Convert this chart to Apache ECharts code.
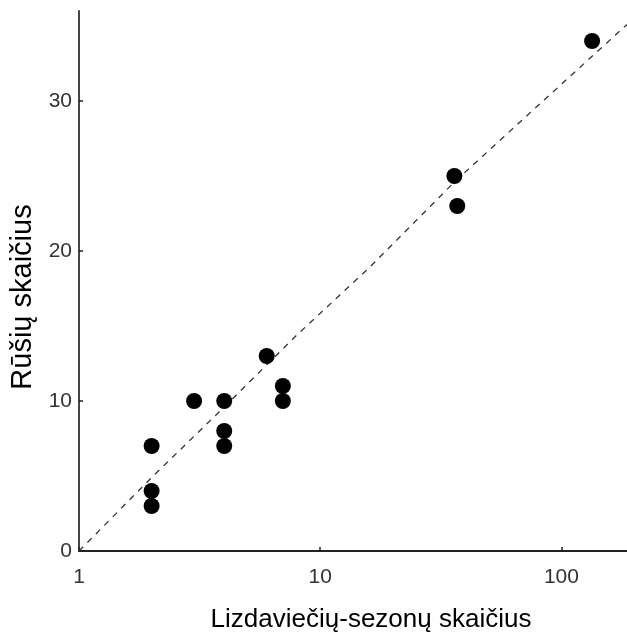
<!DOCTYPE html>
<html>
<head>
<meta charset="utf-8">
<script src="https://cdn.jsdelivr.net/npm/echarts@6/dist/echarts.min.js"></script>
<style>
  html, body { margin: 0; padding: 0; background: #fff; }
  #chart { width: 627px; height: 638px; }
</style>
</head>
<body>
<div id="chart"></div>
<script>
// Observed sites: nest-site seasons (x) vs. number of species (y)
const nestSeasons = [2, 2, 2, 3, 4, 4, 4, 6, 7, 7, 36, 37, 134];
const speciesCount = [3, 4, 7, 10, 10, 8, 7, 13, 11, 10, 25, 23, 34];

// Fitted trend curve (dashed)
const trendX = [1, 2, 4, 8, 16, 36, 80, 187];
const trendY = [0, 4.9, 9.6, 14.4, 18.9, 24.6, 29.7, 35.1];

const xTicks = [1, 10, 100];
const yTicks = [0, 10, 20, 30];

const xTitle = 'Lizdaviečių-sezonų skaičius';
const yTitle = 'Rūšių skaičius';

const FONT = '"Liberation Sans", Arial, sans-serif';

const chart = echarts.init(document.getElementById('chart'));
chart.setOption({
  animation: false,
  backgroundColor: '#fff',
  grid: { left: 79, top: 11, right: 0, bottom: 80, containLabel: false },
  xAxis: {
    type: 'log',
    logBase: 10,
    min: 1,
    max: 187,
    name: xTitle,
    nameLocation: 'middle',
    nameGap: 56,
    nameTextStyle: { fontFamily: FONT, fontSize: 26, color: '#000', padding: [0, 0, 0, 36] },
    axisLine: { lineStyle: { color: '#222', width: 2 } },
    axisTick: { show: true, inside: true, length: 4, customValues: xTicks, lineStyle: { color: '#222', width: 1.5 } },
    axisLabel: { customValues: xTicks, margin: 16, fontFamily: FONT, fontSize: 21, color: '#333' },
    splitLine: { show: false },
    minorTick: { show: false }
  },
  yAxis: {
    type: 'value',
    min: 0,
    max: 36,
    interval: 10,
    name: yTitle,
    nameLocation: 'middle',
    nameGap: 41,
    nameRotate: 90,
    nameTextStyle: { fontFamily: FONT, fontSize: 29, color: '#000', padding: [0, 32, 0, 0] },
    axisLine: { show: true, lineStyle: { color: '#444', width: 2 } },
    axisTick: { show: true, inside: true, length: 4, customValues: yTicks, lineStyle: { color: '#222', width: 1.5 } },
    axisLabel: { customValues: yTicks, margin: 7, padding: [7, 0, 0, 0], fontFamily: FONT, fontSize: 21, color: '#333' },
    splitLine: { show: false }
  },
  series: [
    {
      type: 'line',
      data: trendX.map((x, i) => [x, trendY[i]]),
      showSymbol: false,
      symbol: 'none',
      lineStyle: { color: '#333', width: 1.3, type: [6, 6] },
      silent: true,
      z: 1
    },
    {
      type: 'scatter',
      data: nestSeasons.map((x, i) => [x, speciesCount[i]]),
      symbol: 'circle',
      symbolSize: 16,
      itemStyle: { color: '#000', opacity: 1 },
      z: 2
    }
  ]
});
</script>
</body>
</html>
